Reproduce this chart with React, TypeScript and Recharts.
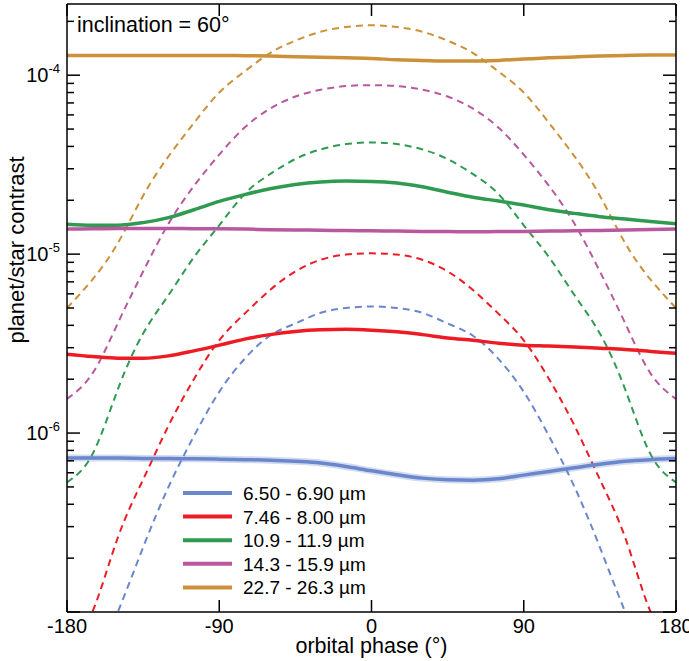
import { LineChart, Line, XAxis, YAxis } from "recharts";

const FONT = '"Liberation Sans", Arial, Helvetica, sans-serif';

// orbital phase (deg)
const phases = [
  -180, -165, -150, -135, -120, -105, -90, -75, -60, -45, -30, -15, 0,
  15, 30, 45, 60, 75, 90, 105, 120, 135, 150, 165, 180,
];

// solid = model, dashed = bare rock comparison
const blueSolid = [
  7.25e-7, 7.25e-7, 7.25e-7, 7.22e-7, 7.2e-7, 7.18e-7, 7.15e-7, 7.1e-7, 7.05e-7, 6.95e-7, 6.8e-7, 6.5e-7, 6.15e-7,
  5.85e-7, 5.6e-7, 5.48e-7, 5.45e-7, 5.55e-7, 5.82e-7, 6.1e-7, 6.4e-7, 6.7e-7, 6.95e-7, 7.1e-7, 7.2e-7,
];
const blueDashed = [
  3e-8, 5e-8, 1.0e-7, 2.3e-7, 5.0e-7, 9.6e-7, 1.7e-6, 2.6e-6, 3.5e-6, 4.1e-6, 4.7e-6, 5.0e-6, 5.1e-6,
  5.0e-6, 4.7e-6, 4.1e-6, 3.5e-6, 2.6e-6, 1.7e-6, 9.6e-7, 5.0e-7, 2.3e-7, 1.0e-7, 5e-8, 3e-8,
];
const redSolid = [
  2.76e-6, 2.68e-6, 2.62e-6, 2.62e-6, 2.7e-6, 2.88e-6, 3.1e-6, 3.35e-6, 3.55e-6, 3.7e-6, 3.78e-6, 3.8e-6, 3.76e-6,
  3.68e-6, 3.55e-6, 3.4e-6, 3.3e-6, 3.18e-6, 3.1e-6, 3.07e-6, 3.03e-6, 2.98e-6, 2.93e-6, 2.86e-6, 2.79e-6,
];
const redDashed = [
  6e-8, 1.0e-7, 2.6e-7, 5.5e-7, 1.1e-6, 2.0e-6, 3.3e-6, 4.65e-6, 6.3e-6, 8.0e-6, 9.3e-6, 9.95e-6, 1.01e-5,
  9.95e-6, 9.3e-6, 8.0e-6, 6.3e-6, 4.65e-6, 3.3e-6, 2.0e-6, 1.1e-6, 5.5e-7, 2.6e-7, 1.0e-7, 6e-8,
];
const greenSolid = [
  1.47e-5, 1.45e-5, 1.45e-5, 1.5e-5, 1.6e-5, 1.77e-5, 1.97e-5, 2.15e-5, 2.32e-5, 2.45e-5, 2.53e-5, 2.56e-5, 2.55e-5,
  2.5e-5, 2.38e-5, 2.22e-5, 2.08e-5, 1.98e-5, 1.88e-5, 1.77e-5, 1.69e-5, 1.62e-5, 1.57e-5, 1.52e-5, 1.48e-5,
];
const greenDashed = [
  5.3e-7, 7.6e-7, 1.75e-6, 3.6e-6, 5.9e-6, 9.6e-6, 1.45e-5, 2.17e-5, 2.8e-5, 3.4e-5, 3.85e-5, 4.12e-5, 4.21e-5,
  4.12e-5, 3.85e-5, 3.4e-5, 2.8e-5, 2.17e-5, 1.45e-5, 9.6e-6, 5.9e-6, 3.6e-6, 1.75e-6, 7.6e-7, 5.3e-7,
];
const magentaSolid = [
  1.38e-5, 1.385e-5, 1.39e-5, 1.39e-5, 1.39e-5, 1.388e-5, 1.385e-5, 1.38e-5, 1.37e-5, 1.365e-5, 1.36e-5, 1.355e-5, 1.35e-5,
  1.345e-5, 1.34e-5, 1.337e-5, 1.335e-5, 1.337e-5, 1.34e-5, 1.345e-5, 1.35e-5, 1.357e-5, 1.365e-5, 1.372e-5, 1.38e-5,
];
const magentaDashed = [
  1.55e-6, 2.15e-6, 4.1e-6, 8.0e-6, 1.48e-5, 2.4e-5, 3.6e-5, 5.1e-5, 6.5e-5, 7.6e-5, 8.3e-5, 8.7e-5, 8.8e-5,
  8.7e-5, 8.3e-5, 7.6e-5, 6.5e-5, 5.1e-5, 3.6e-5, 2.4e-5, 1.48e-5, 8.0e-6, 4.1e-6, 2.15e-6, 1.55e-6,
];
const orangeSolid = [
  1.29e-4, 1.29e-4, 1.29e-4, 1.29e-4, 1.29e-4, 1.29e-4, 1.29e-4, 1.285e-4, 1.28e-4, 1.27e-4, 1.26e-4, 1.25e-4, 1.24e-4,
  1.22e-4, 1.21e-4, 1.2e-4, 1.2e-4, 1.21e-4, 1.23e-4, 1.25e-4, 1.265e-4, 1.28e-4, 1.29e-4, 1.295e-4, 1.295e-4,
];
const orangeDashed = [
  5.0e-6, 7.2e-6, 1.15e-5, 2.12e-5, 3.52e-5, 5.4e-5, 8.0e-5, 1.05e-4, 1.33e-4, 1.56e-4, 1.75e-4, 1.86e-4, 1.9e-4,
  1.86e-4, 1.75e-4, 1.56e-4, 1.33e-4, 1.05e-4, 8.0e-5, 5.4e-5, 3.52e-5, 2.12e-5, 1.15e-5, 7.2e-6, 5.0e-6,
];

const bandLabels = ["6.50 - 6.90 µm", "7.46 - 8.00 µm", "10.9 - 11.9 µm", "14.3 - 15.9 µm", "22.7 - 26.3 µm"];
const bandColors = ["#6b87cc", "#ed1c24", "#2f9a50", "#b9589f", "#cc9138"];
const solidSets = [blueSolid, redSolid, greenSolid, magentaSolid, orangeSolid];
const dashedSets = [blueDashed, redDashed, greenDashed, magentaDashed, orangeDashed];

const xTicks = [-180, -90, 0, 90, 180];
const yDecades = [-7, -6, -5, -4];
const yMantissas = [1, 2, 3, 4, 5, 6, 7, 8, 9];
const yLabelled = [-6, -5, -4];
const yDomain = [1e-7, 2.5e-4];

const yTicks = yDecades
  .flatMap((e) => yMantissas.map((m) => m * Math.pow(10, e)))
  .filter((v) => v <= yDomain[1]);

const rows = phases.map((p, i) => {
  const r: Record<string, number> = { phase: p };
  solidSets.forEach((s, k) => (r["s" + k] = s[i]));
  dashedSets.forEach((s, k) => (r["d" + k] = s[i]));
  return r;
});

function decade(v: number) {
  const e = Math.round(Math.log10(v));
  return { e, major: Math.abs(v / Math.pow(10, e) - 1) < 1e-6 };
}

const LeftTick = (props: any) => {
  const { x, y, payload } = props;
  const { e, major } = decade(payload.value);
  return (
    <g>
      <line x1={x} x2={x + (major ? 13 : 7)} y1={y} y2={y} stroke="#000" strokeWidth={1.5} />
      {major && yLabelled.includes(e) && (
        <text x={x - 7} y={y + 7} textAnchor="end" fontSize={20} fontFamily={FONT} fill="#000">
          10
          <tspan dy={-9} fontSize={13}>
            {String(e)}
          </tspan>
        </text>
      )}
    </g>
  );
};

const RightTick = (props: any) => {
  const { x, y, payload } = props;
  const { major } = decade(payload.value);
  return <line x1={x - (major ? 13 : 7)} x2={x} y1={y} y2={y} stroke="#000" strokeWidth={1.5} />;
};

const BottomTick = (props: any) => {
  const { x, y, payload } = props;
  return (
    <g>
      <line x1={x} x2={x} y1={y - 12} y2={y} stroke="#000" strokeWidth={1.5} />
      <text x={x} y={y + 21} textAnchor="middle" fontSize={20} fontFamily={FONT} fill="#000">
        {String(payload.value)}
      </text>
    </g>
  );
};

const TopTick = (props: any) => {
  const { x, y } = props;
  return <line x1={x} x2={x} y1={y} y2={y + 12} stroke="#000" strokeWidth={1.5} />;
};

const axisLine = { stroke: "#000", strokeWidth: 1.5 };

export default function App() {
  return (
    <div style={{ position: "absolute", left: 0, top: 0, width: 689, height: 661, background: "#fff" }}>
      <LineChart width={689} height={661} data={rows} margin={{ top: 0, right: 0, bottom: 0, left: 0 }}>
        <XAxis
          xAxisId="b"
          dataKey="phase"
          type="number"
          domain={[-180, 180]}
          ticks={xTicks}
          interval={0}
          allowDataOverflow
          height={49}
          tickSize={0}
          tickMargin={0}
          tickLine={false}
          axisLine={axisLine}
          tick={<BottomTick />}
          label={{ value: "orbital phase (°)", position: "insideBottom", offset: 8, fontSize: 21.5, fill: "#000", fontFamily: FONT }}
        />
        <XAxis
          xAxisId="t"
          orientation="top"
          dataKey="phase"
          type="number"
          domain={[-180, 180]}
          ticks={xTicks}
          interval={0}
          allowDataOverflow
          height={4}
          tickSize={0}
          tickMargin={0}
          tickLine={false}
          axisLine={axisLine}
          tick={<TopTick />}
        />
        <YAxis
          yAxisId="l"
          scale="log"
          type="number"
          domain={yDomain}
          ticks={yTicks}
          interval={0}
          allowDataOverflow
          width={67}
          tickSize={0}
          tickMargin={0}
          tickLine={false}
          axisLine={axisLine}
          tick={<LeftTick />}
        />
        <YAxis
          yAxisId="r"
          orientation="right"
          scale="log"
          type="number"
          domain={yDomain}
          ticks={yTicks}
          interval={0}
          allowDataOverflow
          width={13}
          tickSize={0}
          tickMargin={0}
          tickLine={false}
          axisLine={axisLine}
          tick={<RightTick />}
        />
        {bandColors.map((c, k) => (
          <Line
            key={"d" + k}
            xAxisId="b"
            yAxisId="l"
            dataKey={"d" + k}
            type="natural"
            stroke={c}
            strokeWidth={2}
            strokeDasharray="7 5"
            dot={false}
            activeDot={false}
            isAnimationActive={false}
          />
        ))}
        <Line
          xAxisId="b"
          yAxisId="l"
          dataKey="s0"
          type="monotone"
          stroke={bandColors[0]}
          strokeOpacity={0.3}
          strokeWidth={7}
          dot={false}
          activeDot={false}
          isAnimationActive={false}
        />
        {bandColors.map((c, k) => (
          <Line
            key={"s" + k}
            xAxisId="b"
            yAxisId="l"
            dataKey={"s" + k}
            type="monotone"
            stroke={c}
            strokeWidth={3.5}
            dot={false}
            activeDot={false}
            isAnimationActive={false}
          />
        ))}
      </LineChart>
      <svg width={689} height={661} style={{ position: "absolute", left: 0, top: 0, pointerEvents: "none" }}>
        <text x={77} y={32} fontSize={21.5} fontFamily={FONT} fill="#000">
          inclination = 60°
        </text>
        <text transform="translate(24,250) rotate(-90)" textAnchor="middle" fontSize={22} fontFamily={FONT} fill="#000">
          planet/star contrast
        </text>
        {bandLabels.map((lab, k) => (
          <g key={lab}>
            <line x1={183} x2={232} y1={493 + k * 23.6} y2={493 + k * 23.6} stroke={bandColors[k]} strokeWidth={4} />
            <text x={243} y={500 + k * 23.6} fontSize={19} fontFamily={FONT} fill="#000">
              {lab}
            </text>
          </g>
        ))}
      </svg>
    </div>
  );
}
